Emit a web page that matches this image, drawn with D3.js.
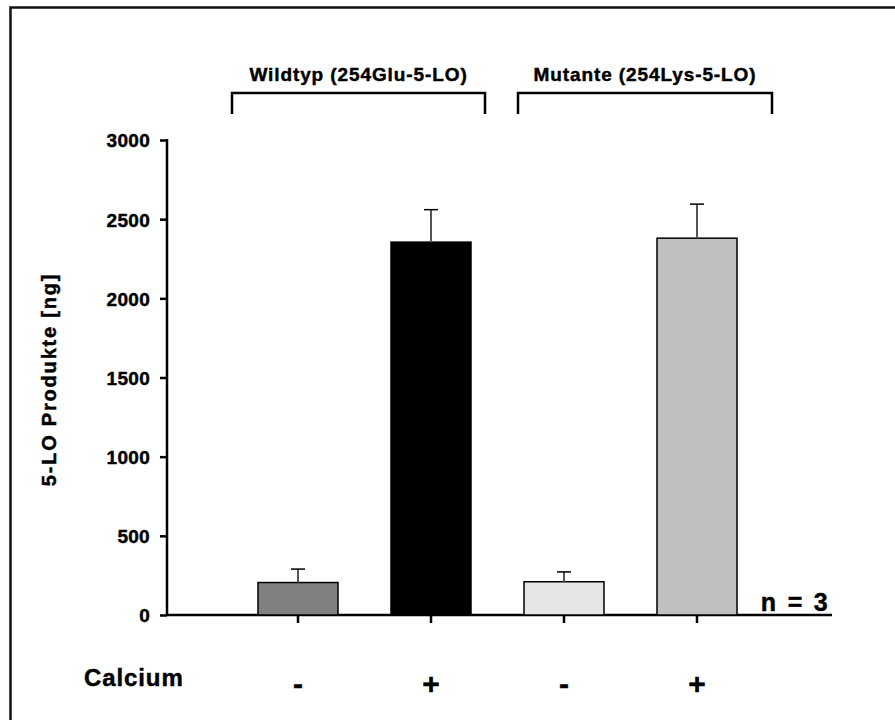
<!DOCTYPE html>
<html>
<head>
<meta charset="utf-8">
<script src="https://cdn.jsdelivr.net/npm/d3@7"></script>
<style>
  html, body { margin: 0; padding: 0; background: #fff; }
  svg { display: block; }
  text { font-family: "Liberation Sans", Arial, sans-serif; font-weight: bold; fill: #000;
         stroke: #000; stroke-width: 0.45px; }
</style>
</head>
<body>
<svg id="chart" width="895" height="720"></svg>
<script>
// 5-LO product formation, wild type vs. mutant, with / without calcium
const conditions = ["WT -", "WT +", "Mut -", "Mut +"];
const calcium = ["-", "+", "-", "+"];
const means = [205, 2355, 210, 2380];
const errors = [85, 205, 62, 215];
const fills = ["#808080", "#000000", "#e6e6e6", "#c0c0c0"];
const groups = ["Wildtyp (254Glu-5-LO)", "Mutante (254Lys-5-LO)"];
const groupMembers = [[0, 1], [2, 3]];
const yTicks = [0, 500, 1000, 1500, 2000, 2500, 3000];

const svg = d3.select("#chart");

// outer frame (runs off the right and bottom edges)
svg.append("rect")
  .attr("x", 10.5).attr("y", 7.5)
  .attr("width", 900).attr("height", 730)
  .attr("fill", "none").attr("stroke", "#111").attr("stroke-width", 2.5);

const plotL = 167, plotR = 832, plotT = 140, plotB = 615;

const y = d3.scaleLinear().domain([0, 3000]).range([plotB, plotT]);
// five equal slots; bars sit at slot positions 1..4
const x = d3.scaleLinear().domain([0, 5]).range([plotL, plotR]);
const pos = i => x(i + 1) - 2;
const barW = 80;

// y axis
const yAxis = svg.append("g")
  .attr("transform", `translate(${plotL},0)`)
  .call(d3.axisLeft(y).tickValues(yTicks).tickSize(7).tickPadding(10).tickFormat(d3.format("d")));
yAxis.select(".domain").remove();
yAxis.selectAll(".tick line").attr("stroke", "#000").attr("stroke-width", 2.5);
yAxis.selectAll(".tick text")
  .attr("font-size", 19).attr("font-family", "Liberation Sans, Arial, sans-serif")
  .attr("font-weight", "bold").attr("letter-spacing", 0.3).attr("fill", "#000")
  .attr("dy", "0.36em");

svg.append("line")
  .attr("x1", plotL).attr("x2", plotL)
  .attr("y1", y(3000) - 1).attr("y2", plotB + 1)
  .attr("stroke", "#000").attr("stroke-width", 2.5);

// x axis
svg.append("line")
  .attr("x1", plotL).attr("x2", plotR)
  .attr("y1", plotB).attr("y2", plotB)
  .attr("stroke", "#000").attr("stroke-width", 2.5);
svg.selectAll(".xtick").data(conditions).join("line")
  .attr("class", "xtick")
  .attr("x1", (d, i) => pos(i)).attr("x2", (d, i) => pos(i))
  .attr("y1", plotB).attr("y2", plotB + 8)
  .attr("stroke", "#000").attr("stroke-width", 2.5);

// bars
svg.selectAll(".bar").data(means).join("rect")
  .attr("class", "bar")
  .attr("x", (d, i) => pos(i) - barW / 2)
  .attr("y", d => y(d))
  .attr("width", barW)
  .attr("height", d => plotB - y(d))
  .attr("fill", (d, i) => fills[i])
  .attr("stroke", "#000").attr("stroke-width", 1.5);

// upper error bars
const err = svg.selectAll(".err").data(means).join("g").attr("class", "err");
err.append("line")
  .attr("x1", (d, i) => pos(i)).attr("x2", (d, i) => pos(i))
  .attr("y1", d => y(d)).attr("y2", (d, i) => y(d + errors[i]))
  .attr("stroke", "#555").attr("stroke-width", 2);
err.append("line")
  .attr("x1", (d, i) => pos(i) - 7).attr("x2", (d, i) => pos(i) + 7)
  .attr("y1", (d, i) => y(d + errors[i])).attr("y2", (d, i) => y(d + errors[i]))
  .attr("stroke", "#000").attr("stroke-width", 1.5);

// y axis title
svg.append("text")
  .attr("transform", `translate(56,${(plotT + plotB) / 2 + 2}) rotate(-90)`)
  .attr("text-anchor", "middle")
  .attr("font-size", 20).attr("letter-spacing", 1.8)
  .text("5-LO Produkte [ng]");

// group brackets and titles (left / right reach beyond the outer bar centres)
const bTop = 93, bBot = 114;
const bracketReach = [[66, 54], [46, 75]];
groupMembers.forEach((m, gi) => {
  const x0 = pos(m[0]) - bracketReach[gi][0], x1 = pos(m[1]) + bracketReach[gi][1];
  svg.append("path")
    .attr("d", `M${x0},${bBot}V${bTop}H${x1}V${bBot}`)
    .attr("fill", "none").attr("stroke", "#000").attr("stroke-width", 2.5);
  svg.append("text")
    .attr("x", (x0 + x1) / 2).attr("y", bTop - 12)
    .attr("text-anchor", "middle")
    .attr("font-size", 19).attr("letter-spacing", 0.9)
    .text(groups[gi]);
});

// sample size
svg.append("text")
  .attr("x", plotR - 2).attr("y", plotB - 4)
  .attr("text-anchor", "end")
  .attr("font-size", 25).attr("letter-spacing", 2.3)
  .text("n = 3");

// calcium row
svg.append("text")
  .attr("x", 84).attr("y", 686)
  .attr("font-size", 24).attr("letter-spacing", 0.9)
  .text("Calcium");
svg.selectAll(".ca").data(calcium).join("text")
  .attr("class", "ca")
  .attr("x", (d, i) => pos(i)).attr("y", 694)
  .attr("text-anchor", "middle")
  .attr("font-size", 30)
  .text(d => d);
</script>
</body>
</html>
